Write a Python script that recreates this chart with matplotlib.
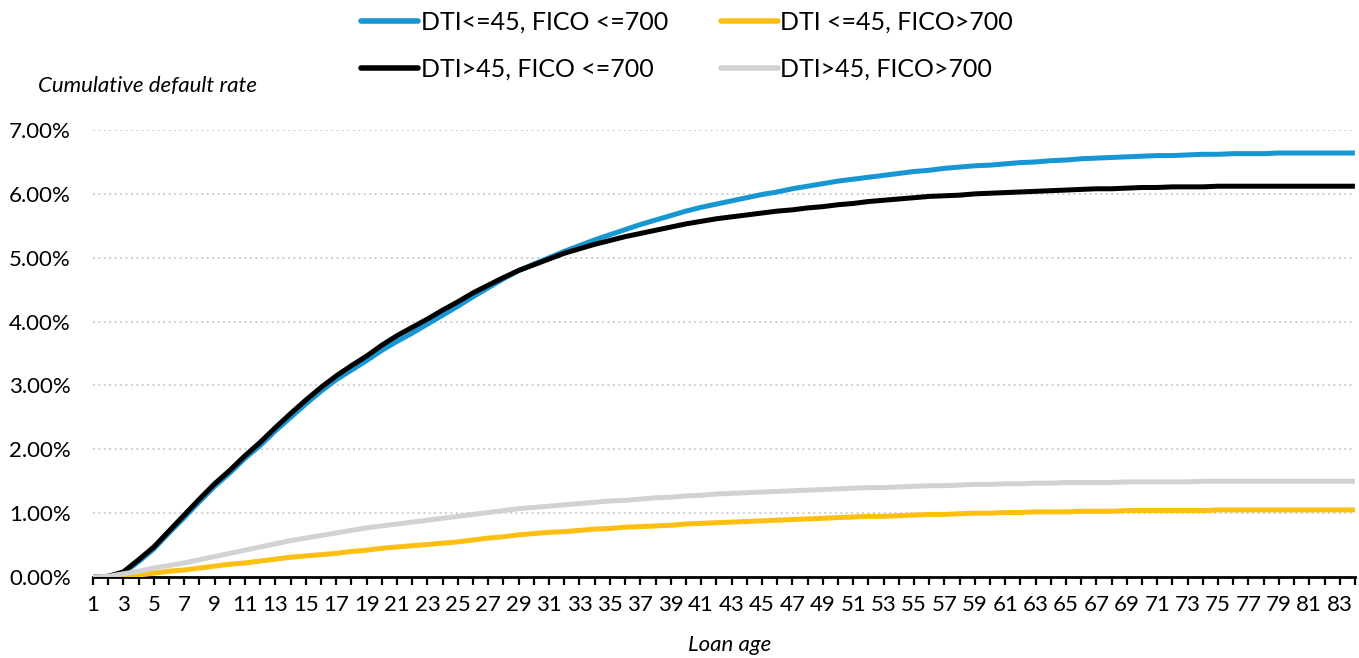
import numpy as np
import matplotlib
matplotlib.use("Agg")
import matplotlib.pyplot as plt
from matplotlib.ticker import FuncFormatter

plt.rcParams['font.family'] = ['Lato', 'DejaVu Sans']

# loan age in months
ages = list(range(1, 85))

# cumulative default rate, in percent
dti_low_fico_low = [
    0.00, 0.01, 0.06, 0.24, 0.44, 0.69, 0.93, 1.18, 1.42, 1.63,
    1.86, 2.06, 2.29, 2.50, 2.71, 2.91, 3.09, 3.24, 3.39, 3.55,
    3.69, 3.82, 3.96, 4.10, 4.24, 4.39, 4.53, 4.67, 4.80, 4.90,
    5.00, 5.10, 5.19, 5.28, 5.36, 5.44, 5.52, 5.59, 5.66, 5.73,
    5.79, 5.84, 5.89, 5.94, 5.99, 6.03, 6.08, 6.12, 6.16, 6.20,
    6.23, 6.26, 6.29, 6.32, 6.35, 6.37, 6.40, 6.42, 6.44, 6.45,
    6.47, 6.49, 6.50, 6.52, 6.53, 6.55, 6.56, 6.57, 6.58, 6.59,
    6.60, 6.60, 6.61, 6.62, 6.62, 6.63, 6.63, 6.63, 6.64, 6.64,
    6.64, 6.64, 6.64, 6.64]
dti_low_fico_high = [
    0.00, 0.00, 0.01, 0.03, 0.06, 0.09, 0.11, 0.14, 0.17, 0.20,
    0.22, 0.25, 0.28, 0.31, 0.33, 0.35, 0.37, 0.40, 0.42, 0.45,
    0.47, 0.49, 0.51, 0.53, 0.55, 0.58, 0.61, 0.63, 0.66, 0.68,
    0.70, 0.71, 0.73, 0.75, 0.76, 0.78, 0.79, 0.80, 0.81, 0.83,
    0.84, 0.85, 0.86, 0.87, 0.88, 0.89, 0.90, 0.91, 0.92, 0.93,
    0.94, 0.95, 0.95, 0.96, 0.97, 0.98, 0.98, 0.99, 1.00, 1.00,
    1.01, 1.01, 1.02, 1.02, 1.02, 1.03, 1.03, 1.03, 1.04, 1.04,
    1.04, 1.04, 1.04, 1.04, 1.05, 1.05, 1.05, 1.05, 1.05, 1.05,
    1.05, 1.05, 1.05, 1.05]
dti_high_fico_low = [
    0.00, 0.01, 0.08, 0.27, 0.47, 0.72, 0.97, 1.22, 1.46, 1.67,
    1.90, 2.11, 2.34, 2.56, 2.77, 2.97, 3.15, 3.31, 3.46, 3.63,
    3.78, 3.91, 4.04, 4.18, 4.31, 4.45, 4.57, 4.69, 4.80, 4.89,
    4.98, 5.07, 5.14, 5.21, 5.27, 5.33, 5.38, 5.43, 5.48, 5.53,
    5.57, 5.61, 5.64, 5.67, 5.70, 5.73, 5.75, 5.78, 5.80, 5.83,
    5.85, 5.88, 5.90, 5.92, 5.94, 5.96, 5.97, 5.98, 6.00, 6.01,
    6.02, 6.03, 6.04, 6.05, 6.06, 6.07, 6.08, 6.08, 6.09, 6.10,
    6.10, 6.11, 6.11, 6.11, 6.12, 6.12, 6.12, 6.12, 6.12, 6.12,
    6.12, 6.12, 6.12, 6.12]
dti_high_fico_high = [
    0.00, 0.01, 0.05, 0.09, 0.14, 0.18, 0.22, 0.27, 0.32, 0.37,
    0.42, 0.47, 0.52, 0.57, 0.61, 0.65, 0.69, 0.73, 0.77, 0.80,
    0.83, 0.86, 0.89, 0.92, 0.95, 0.98, 1.01, 1.04, 1.07, 1.09,
    1.11, 1.13, 1.15, 1.17, 1.19, 1.20, 1.22, 1.24, 1.25, 1.27,
    1.28, 1.30, 1.31, 1.32, 1.33, 1.34, 1.35, 1.36, 1.37, 1.38,
    1.39, 1.40, 1.40, 1.41, 1.42, 1.43, 1.43, 1.44, 1.45, 1.45,
    1.46, 1.46, 1.47, 1.47, 1.48, 1.48, 1.48, 1.48, 1.49, 1.49,
    1.49, 1.49, 1.49, 1.50, 1.50, 1.50, 1.50, 1.50, 1.50, 1.50,
    1.50, 1.50, 1.50, 1.50]

labels = ["DTI<=45, FICO <=700", "DTI <=45, FICO>700",
          "DTI>45, FICO <=700", "DTI>45, FICO>700"]
colors = ["#1696d2", "#fdbf11", "#000000", "#d2d2d2"]

fig = plt.figure(figsize=(13.59, 6.58), dpi=100)
ax = fig.add_axes([0.0684, 0.1231, 0.9286, 0.6793])

lw = 3.6
l_blue, = ax.plot(ages, dti_low_fico_low, color=colors[0], lw=lw, label=labels[0], solid_capstyle='butt')
l_black, = ax.plot(ages, dti_high_fico_low, color=colors[2], lw=lw, label=labels[2], solid_capstyle='butt')
l_yellow, = ax.plot(ages, dti_low_fico_high, color=colors[1], lw=lw, label=labels[1], solid_capstyle='butt')
l_grey, = ax.plot(ages, dti_high_fico_high, color=colors[3], lw=lw, label=labels[3], solid_capstyle='butt')

ax.set_xlim(1, 84)
ax.set_ylim(0, 7)

ax.set_yticks(np.arange(0, 8, 1))
ax.yaxis.set_major_formatter(FuncFormatter(lambda v, p: "%.2f%%" % v))
ax.set_xticks(ages)
ax.set_xticklabels([str(a) if a % 2 == 1 else "" for a in ages])

ax.grid(axis='y', color='#c8c8c8', linestyle=(0, (1, 2)), lw=1.3)
ax.set_axisbelow(True)
for s in ['top', 'right', 'left']:
    ax.spines[s].set_visible(False)
ax.spines['bottom'].set_linewidth(2)
ax.spines['bottom'].set_color('black')
ax.spines['bottom'].set_zorder(1)

ax.tick_params(axis='y', length=0, labelsize=16, pad=16, labelcolor='#000000')
ax.tick_params(axis='x', length=6, width=1.6, direction='out', labelsize=16, pad=7)

fig.text(38 / 1359, 1 - 86 / 658, "Cumulative default rate", style='italic',
         fontsize=16, va='center', ha='left')
fig.text(730 / 1359, 1 - 645 / 658, "Loan age", style='italic',
         fontsize=16, va='center', ha='center')

leg = fig.legend(handles=[l_blue, l_black, l_yellow, l_grey], ncol=2,
                 loc='upper center', bbox_to_anchor=(687 / 1359, 1.01),
                 frameon=False, fontsize=18, handlelength=2.3,
                 handletextpad=0.1, columnspacing=2.1, labelspacing=0.95,
                 borderpad=0.2)
for h in leg.get_lines():
    h.set_linewidth(4)
    h.set_solid_capstyle('round')

fig.savefig("out.png", dpi=100)
